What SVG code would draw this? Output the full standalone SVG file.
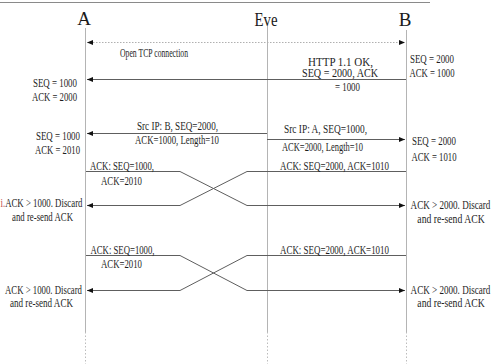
<svg xmlns="http://www.w3.org/2000/svg" width="495" height="364" viewBox="0 0 495 364">
  <style>
    .life { stroke: #b4b4b4; stroke-width: 1; fill: none; }
    .life-end { stroke: #bcbcbc; stroke-width: 1; stroke-dasharray: 1.5 2; fill: none; }
    .msg { stroke: #5e5e5e; stroke-width: 1; fill: none; stroke-linejoin: round; }
    .open { stroke: #b0b0b0; stroke-width: 1; stroke-dasharray: 1.5 1.5; fill: none; }
    .head { font-family: "Liberation Serif", "DejaVu Serif", serif; font-size: 19px; fill: #1a1a1a; text-anchor: middle; }
    .t { font-family: "Liberation Serif", "DejaVu Serif", serif; font-size: 11.5px; fill: #1e1e1e; text-anchor: middle; }
  </style>
  <defs>
    <marker id="arrow" viewBox="0 0 6 5" refX="6" refY="2.5" markerWidth="6" markerHeight="5" markerUnits="userSpaceOnUse" orient="auto-start-reverse">
      <path d="M0,0 L6,2.5 L0,5 z" fill="#111"/>
    </marker>
  </defs>

  <rect width="495" height="364" fill="#fff"/>
  <!-- top rule -->
  <line x1="0" y1="2.5" x2="430" y2="2.5" stroke="#8a8a8a" stroke-width="1"/>

  <!-- participants -->
  <g id="node-a">
    <text class="head" x="84" y="25">A</text>
    <line class="life" x1="85.5" y1="28" x2="85.5" y2="332"/>
    <line class="life-end" x1="85.5" y1="332" x2="85.5" y2="364"/>
  </g>
  <g id="node-eve">
    <text class="head" x="266" y="26" textLength="23" lengthAdjust="spacingAndGlyphs">Eve</text>
    <line class="life" x1="267.5" y1="26" x2="267.5" y2="332"/>
    <line class="life-end" x1="267.5" y1="332" x2="267.5" y2="364"/>
  </g>
  <g id="node-b">
    <text class="head" x="405" y="26">B</text>
    <line class="life" x1="406.5" y1="30" x2="406.5" y2="332"/>
    <line class="life-end" x1="406.5" y1="332" x2="406.5" y2="364"/>
  </g>

  <!-- messages -->
  <g id="connectors">
    <line class="open" x1="87" y1="42.5" x2="405" y2="42.5" marker-start="url(#arrow)" marker-end="url(#arrow)"/>
    <line class="msg" x1="406" y1="79.5" x2="87" y2="79.5" marker-end="url(#arrow)"/>
    <line class="msg" x1="267" y1="133.5" x2="87" y2="133.5" marker-end="url(#arrow)"/>
    <line class="msg" x1="267" y1="139.5" x2="405" y2="139.5" marker-end="url(#arrow)"/>
    <!-- first crossed ACK exchange -->
    <path class="msg" d="M86,171.5 H180 L247,205.5 H405" marker-end="url(#arrow)"/>
    <path class="msg" d="M406,171.5 H247 L180,205.5 H87" marker-end="url(#arrow)"/>
    <!-- second crossed ACK exchange -->
    <path class="msg" d="M86,255.5 H180 L247,290.5 H405" marker-end="url(#arrow)"/>
    <path class="msg" d="M406,255.5 H247 L180,290.5 H87" marker-end="url(#arrow)"/>
  </g>

  <!-- message labels -->
  <g id="labels">
    <text class="t" x="154" y="57" textLength="68" lengthAdjust="spacingAndGlyphs">Open TCP connection</text>
    <text class="t" x="340.5" y="66" textLength="65" lengthAdjust="spacingAndGlyphs">HTTP 1.1 OK,</text>
    <text class="t" x="340" y="77" textLength="76" lengthAdjust="spacingAndGlyphs">SEQ = 2000, ACK</text>
    <text class="t" x="347.5" y="91" textLength="25" lengthAdjust="spacingAndGlyphs">= 1000</text>

    <text class="t" x="177.5" y="130" textLength="81" lengthAdjust="spacingAndGlyphs">Src IP: B,  SEQ=2000,</text>
    <text class="t" x="177" y="144" textLength="84" lengthAdjust="spacingAndGlyphs">ACK=1000, Length=10</text>
    <text class="t" x="325.5" y="133" textLength="83" lengthAdjust="spacingAndGlyphs">Src IP: A, SEQ=1000,</text>
    <text class="t" x="322.5" y="151" textLength="81" lengthAdjust="spacingAndGlyphs">ACK=2000, Length=10</text>

    <text class="t" x="122" y="170" textLength="64" lengthAdjust="spacingAndGlyphs">ACK: SEQ=1000,</text>
    <text class="t" x="121.5" y="185" textLength="41" lengthAdjust="spacingAndGlyphs">ACK=2010</text>
    <text class="t" x="334.5" y="169.5" textLength="109" lengthAdjust="spacingAndGlyphs">ACK: SEQ=2000, ACK=1010</text>

    <text class="t" x="122.5" y="254" textLength="64" lengthAdjust="spacingAndGlyphs">ACK: SEQ=1000,</text>
    <text class="t" x="121.5" y="268" textLength="41" lengthAdjust="spacingAndGlyphs">ACK=2010</text>
    <text class="t" x="334.5" y="253.5" textLength="109" lengthAdjust="spacingAndGlyphs">ACK: SEQ=2000, ACK=1010</text>
  </g>

  <!-- sequence state notes -->
  <g id="notes">
    <text class="t" x="55" y="86.5" textLength="44" lengthAdjust="spacingAndGlyphs">SEQ = 1000</text>
    <text class="t" x="54.5" y="101" textLength="45" lengthAdjust="spacingAndGlyphs">ACK = 2000</text>
    <text class="t" x="58" y="139.5" textLength="44" lengthAdjust="spacingAndGlyphs">SEQ = 1000</text>
    <text class="t" x="57.5" y="154" textLength="45" lengthAdjust="spacingAndGlyphs">ACK = 2010</text>

    <text class="t" x="41.5" y="207" textLength="82" lengthAdjust="spacingAndGlyphs"><tspan fill="#c0504d">i.</tspan>ACK &gt; 1000. Discard</text>
    <text class="t" x="42.5" y="221" textLength="61" lengthAdjust="spacingAndGlyphs">and re-send ACK</text>
    <text class="t" x="43.5" y="294" textLength="77" lengthAdjust="spacingAndGlyphs">ACK &gt; 1000. Discard</text>
    <text class="t" x="41.5" y="307" textLength="63" lengthAdjust="spacingAndGlyphs">and re-send ACK</text>

    <text class="t" x="432" y="62.5" textLength="44" lengthAdjust="spacingAndGlyphs">SEQ = 2000</text>
    <text class="t" x="432" y="77" textLength="45" lengthAdjust="spacingAndGlyphs">ACK = 1000</text>
    <text class="t" x="434" y="145" textLength="44" lengthAdjust="spacingAndGlyphs">SEQ = 2000</text>
    <text class="t" x="434" y="160.5" textLength="45" lengthAdjust="spacingAndGlyphs">ACK = 1010</text>

    <!-- narrow notes along the right edge: condensed with a horizontal scale -->
    <text class="t" transform="translate(450.5 208.5) scale(0.79 1)">ACK &gt; 2000. Discard</text>
    <text class="t" transform="translate(451 223) scale(0.845 1)">and re-send ACK</text>
    <text class="t" transform="translate(450.5 294) scale(0.79 1)">ACK &gt; 2000. Discard</text>
    <text class="t" transform="translate(451 307) scale(0.845 1)">and re-send ACK</text>
  </g>
</svg>
